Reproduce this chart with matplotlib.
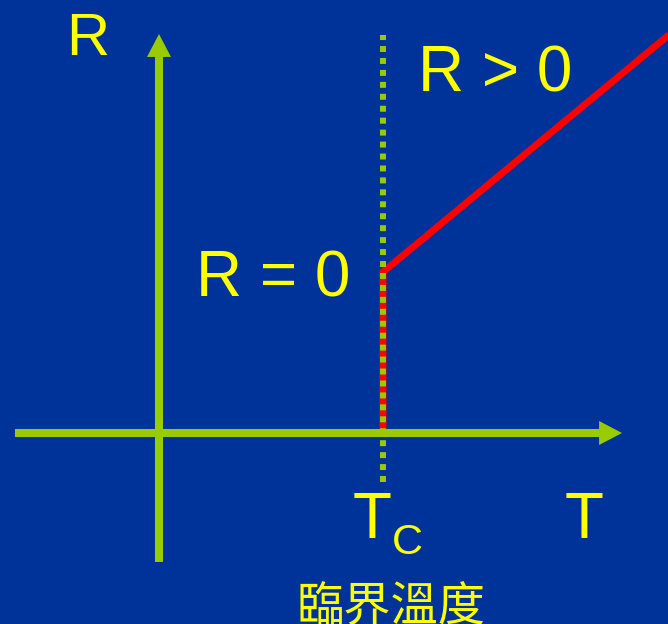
import matplotlib
matplotlib.use("Agg")
import matplotlib.pyplot as plt

# ---- data (T in units of Tc, R in arbitrary units) ----
Tc = 1.0
curve_T = [1.0, 1.0, 2.3]
curve_R = [0.0, 1.0, 2.5]

# axis extents
t_axis = [-0.643, 2.067]   # horizontal T axis (start, arrow tip)
r_axis = [-0.801, 2.478]   # vertical R axis (start, arrow tip)
tc_line = [-0.304, 2.472]  # dotted critical-temperature line

labels = {
    "R_axis": ("R", -0.317, 2.35),
    "R_pos": ("R > 0", 1.502, 2.124),
    "R_zero": ("R = 0", 0.511, 0.845),
    "T_axis": ("T", 1.90, -0.652),
}
tc_label = ("T", "C", 0.953, -0.652)
cn_label = ("臨界溫度", 1.036, -1.174)

BG = "#003399"
GREEN = "#99cc00"
YELLOW = "#ffff00"
RED = "#ff0000"

fig = plt.figure(figsize=(6.68, 6.24), dpi=100, facecolor=BG)
ax = fig.add_axes([0, 0, 1, 1])
ax.set_facecolor(BG)
ax.set_xlim(-0.7098, 2.2723)
ax.set_ylim(-1.1863, 2.6894)
ax.axis("off")

arrow_style = "simple,head_length=1.65,head_width=1.73,tail_width=0.58"
# T axis
ax.annotate("", xy=(t_axis[1], 0), xytext=(t_axis[0], 0),
            arrowprops=dict(arrowstyle=arrow_style, mutation_scale=10,
                            fc=GREEN, ec="none", lw=0, shrinkA=0, shrinkB=0),
            zorder=3)
# R axis
ax.annotate("", xy=(0, r_axis[1]), xytext=(0, r_axis[0]),
            arrowprops=dict(arrowstyle=arrow_style, mutation_scale=10,
                            fc=GREEN, ec="none", lw=0, shrinkA=0, shrinkB=0),
            zorder=3)

# red resistance curve
ax.plot(curve_T, curve_R, color=RED, lw=5.0, solid_joinstyle="miter",
        solid_capstyle="butt", zorder=2)

# dotted Tc line
ax.plot([Tc, Tc], tc_line, color=GREEN, lw=4.3, linestyle=(0, (1, 1)),
        dash_capstyle="butt", zorder=4)

font = ["Liberation Sans", "DejaVu Sans"]
sizes = {"R_axis": 43, "R_pos": 46, "R_zero": 46, "T_axis": 46}
for key, (txt, x, y) in labels.items():
    ax.text(x, y, txt, color=YELLOW, fontsize=sizes[key], family=font,
            ha="center", va="baseline")

# Tc with subscript C
ax.text(tc_label[2], tc_label[3], tc_label[0], color=YELLOW, fontsize=46,
        family=font, ha="center", va="baseline")
ax.text(tc_label[2] + 0.155, tc_label[3] - 0.1, tc_label[1], color=YELLOW,
        fontsize=31, family=font, ha="center", va="baseline")

ax.text(cn_label[1], cn_label[2], cn_label[0], color=YELLOW, fontsize=34,
        family=["Noto Sans CJK TC", "DejaVu Sans"], ha="center", va="baseline")

fig.savefig("out.png", dpi=100, facecolor=BG)
